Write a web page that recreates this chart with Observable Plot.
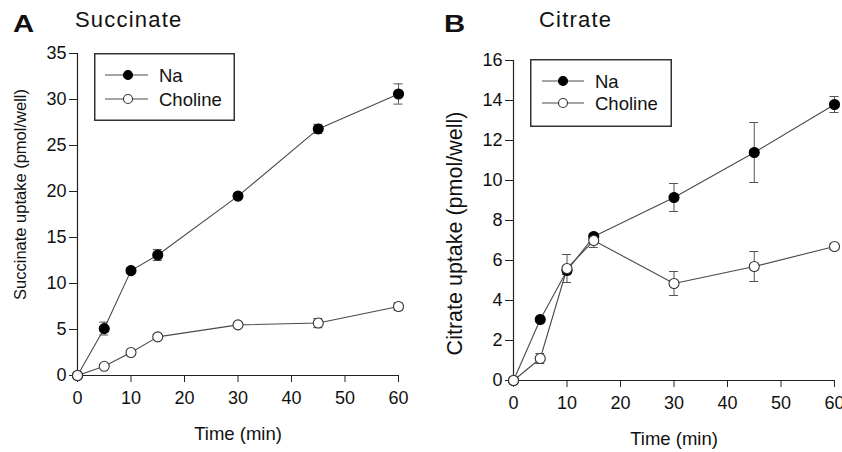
<!DOCTYPE html>
<html><head><meta charset="utf-8">
<script src="https://cdn.jsdelivr.net/npm/d3@7"></script>
<script src="https://cdn.jsdelivr.net/npm/@observablehq/plot@0.6"></script>
<style>
body{margin:0;background:#fff;}
#wrap{position:relative;width:842px;height:452px;overflow:hidden;font-family:"Liberation Sans",Arial,sans-serif;color:#111;}
.panel{position:absolute;top:0;width:421px;height:452px;}
.panel svg{overflow:hidden;}
.tag{position:absolute;font-weight:bold;font-size:24px;line-height:24px;transform:scaleX(1.22);transform-origin:left top;}
.title{position:absolute;font-size:22px;line-height:22px;letter-spacing:1.2px;}
.legend{position:absolute;}
</style>
</head><body>
<div id="wrap">
  <div class="panel" id="pA" style="left:0"></div>
  <div class="panel" id="pB" style="left:421px"></div>
  <div class="tag" style="left:13px;top:12px">A</div>
  <div class="title" style="left:75px;top:8.5px">Succinate</div>
  <div class="tag" style="left:444px;top:12px">B</div>
  <div class="title" style="left:539px;top:8.5px">Citrate</div>
</div>
<script>
const times = [0, 5, 10, 15, 30, 45, 60];
const seriesNames = ["Na", "Choline"];
const xTicks = [0, 10, 20, 30, 40, 50, 60];
const xLabel = "Time (min)";

const succNa = [0, 5.1, 11.4, 13.1, 19.5, 26.8, 30.6];
const succNaErr = [0, 0.7, 0.3, 0.6, 0.3, 0.5, 1.1];
const succCho = [0, 1.0, 2.5, 4.2, 5.5, 5.7, 7.5];
const succChoErr = [0, 0.2, 0.2, 0.2, 0.2, 0.5, 0.4];
const succTicks = [0, 5, 10, 15, 20, 25, 30, 35];
const succLabel = "Succinate uptake (pmol/well)";

const citNa = [0, 3.05, 5.5, 7.2, 9.15, 11.4, 13.8];
const citNaErr = [0, 0.1, 0.2, 0.1, 0.7, 1.5, 0.4];
const citCho = [0, 1.1, 5.6, 7.0, 4.85, 5.7, 6.7];
const citChoErr = [0, 0.25, 0.7, 0.35, 0.6, 0.75, 0.15];
const citTicks = [0, 2, 4, 6, 8, 10, 12, 14, 16];
const citLabel = "Citrate uptake (pmol/well)";

function rows(na, naErr, cho, choErr) {
  const out = [];
  times.forEach((t, i) => out.push({series: "Na", t, v: na[i], e: naErr[i]}));
  times.forEach((t, i) => out.push({series: "Choline", t, v: cho[i], e: choErr[i]}));
  return out;
}

function panel(o) {
  const data = o.data;
  const eb = data.filter(d => d.e > 0);
  const cap = 4.5;
  return Plot.plot({
    width: 421, height: 452,
    marginLeft: o.ml, marginRight: o.mr, marginTop: o.mt, marginBottom: o.mb,
    x: {domain: [0, 60]},
    y: {domain: [0, o.ymax]},
    style: {fontFamily: '"Liberation Sans", Arial, sans-serif', fontSize: "18px", color: "#111", background: "transparent"},
    marks: [
      Plot.axisX({ticks: xTicks, tickSize: 7, tickPadding: 9, label: null, stroke: "#222"}),
      Plot.axisY({ticks: o.yTicks, tickSize: 8, tickPadding: 3, label: null, stroke: "#222"}),
      Plot.ruleX([0], {stroke: "#222", strokeWidth: 1.2}),
      Plot.ruleY([0], {stroke: "#222", strokeWidth: 1.2}),
      Plot.line(data, {x: "t", y: "v", z: "series", stroke: "#4a4a4a", strokeWidth: 1.1}),
      Plot.ruleX(eb, {x: "t", y1: d => d.v - d.e, y2: d => d.v + d.e, stroke: "#555", strokeWidth: 1}),
      Plot.ruleY(eb, {x1: "t", x2: "t", y: d => d.v + d.e, insetLeft: -cap, insetRight: -cap, stroke: "#555", strokeWidth: 1}),
      Plot.ruleY(eb, {x1: "t", x2: "t", y: d => d.v - d.e, insetLeft: -cap, insetRight: -cap, stroke: "#555", strokeWidth: 1}),
      Plot.dot(data, {x: "t", y: "v", r: 5, fill: d => d.series === "Na" ? "#000" : "#fff", stroke: d => d.series === "Na" ? "#000" : "#333", strokeWidth: 1.1}),
      Plot.text([xLabel], {frameAnchor: "bottom", dy: 64, fontSize: 18.5, fill: "#111"}),
      Plot.text([o.yLabel], {frameAnchor: "left", textAnchor: "middle", rotate: -90, dx: o.ydx, dy: o.ydy, fontSize: o.yfs, fill: "#111"})
    ]
  });
}

document.getElementById("pA").appendChild(panel({
  data: rows(succNa, succNaErr, succCho, succChoErr), ymax: 35, yTicks: succTicks, yLabel: succLabel,
  ml: 77, mr: 23, mt: 53, mb: 77, ydx: -57, ydy: -20, yfs: 16.5
}));
document.getElementById("pB").appendChild(panel({
  data: rows(citNa, citNaErr, citCho, citChoErr), ymax: 16, yTicks: citTicks, yLabel: citLabel,
  ml: 92, mr: 8, mt: 60, mb: 72, ydx: -58, ydy: 13, yfs: 21.5
}));

function legend(left, top, w, h, rowsY, lineX1, lineX2, dotX, textX) {
  const ns = "http://www.w3.org/2000/svg";
  const svg = document.createElementNS(ns, "svg");
  svg.setAttribute("width", w); svg.setAttribute("height", h);
  svg.setAttribute("class", "legend");
  svg.style.left = left + "px"; svg.style.top = top + "px";
  const mk = (tag, attrs) => { const e = document.createElementNS(ns, tag); for (const k in attrs) e.setAttribute(k, attrs[k]); svg.appendChild(e); return e; };
  mk("rect", {x: 0.75, y: 0.75, width: w - 1.5, height: h - 1.5, fill: "#fff", stroke: "#333", "stroke-width": 1.5});
  seriesNames.forEach((s, i) => {
    const y = rowsY[i];
    mk("line", {x1: lineX1, x2: lineX2, y1: y, y2: y, stroke: "#4a4a4a", "stroke-width": 1.1});
    mk("circle", {cx: dotX, cy: y, r: 4.5, fill: s === "Na" ? "#000" : "#fff", stroke: s === "Na" ? "#000" : "#333", "stroke-width": 1.1});
    const t = mk("text", {x: textX, y: y + 6.5, "font-size": 18.5, "font-family": '"Liberation Sans", Arial, sans-serif', fill: "#111"});
    t.textContent = s;
  });
  document.getElementById("wrap").appendChild(svg);
}
legend(94, 53, 141, 68, [22, 46], 11, 54, 34, 65);
legend(530, 59, 142, 68, [22, 44], 12, 54, 33, 65);
</script>
</body></html>
